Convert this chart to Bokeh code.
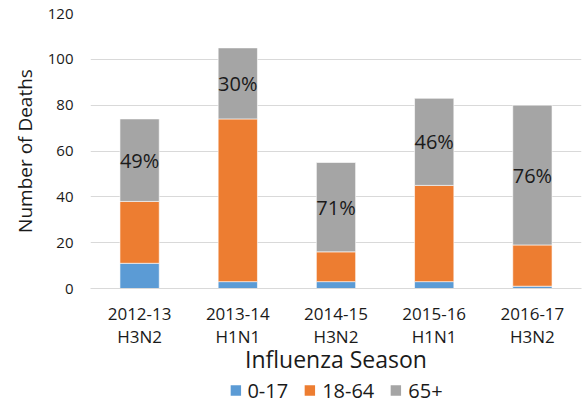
from bokeh.plotting import figure
from bokeh.layouts import column
from bokeh.models import FactorRange, Range1d, Legend, LegendItem, FixedTicker, ColumnDataSource
from bokeh.core.properties import value
from bokeh.embed import file_html
from bokeh.resources import INLINE

seasons = ["2012-13\nH3N2", "2013-14\nH1N1", "2014-15\nH3N2", "2015-16\nH1N1", "2016-17\nH3N2"]
age_groups = ["0-17", "18-64", "65+"]
deaths_0_17 = [11, 3, 3, 3, 1]
deaths_18_64 = [27, 71, 13, 42, 18]
deaths_65_plus = [36, 31, 39, 38, 61]
pct_65_plus = ["49%", "30%", "71%", "46%", "76%"]
y_ticks = [0, 20, 40, 60, 80, 100, 120]
colors = ["#5B9BD5", "#ED7D31", "#A5A5A5"]

FONT = "Open Sans"
TXT = "#1a1a1a"

label_y = [a + b + c / 2 for a, b, c in zip(deaths_0_17, deaths_18_64, deaths_65_plus)]
source = ColumnDataSource(data={
    "season": seasons,
    "0-17": deaths_0_17,
    "18-64": deaths_18_64,
    "65+": deaths_65_plus,
    "label_y": label_y,
    "pct": pct_65_plus,
})

x_range = FactorRange(factors=seasons, range_padding=0)

p = figure(x_range=x_range,
           y_range=Range1d(0, 120),
           width=586, height=378,
           min_border_left=90, min_border_top=13, min_border_right=5, min_border_bottom=85,
           output_backend="svg", toolbar_location=None)
p.outline_line_color = None

renderers = p.vbar_stack(age_groups, x="season", width=0.4, source=source,
                         fill_color=colors, line_color="white", line_width=0.6)

p.text(x="season", y="label_y", text="pct", source=source,
       text_align="center", text_baseline="middle",
       text_font=value(FONT), text_font_size="20px", text_color=TXT)

# Y axis
ya = p.yaxis[0]
ya.ticker = FixedTicker(ticks=y_ticks)
ya.axis_line_color = None
ya.major_tick_line_color = None
ya.minor_tick_line_color = None
ya.major_tick_out = 0
ya.major_tick_in = 0
ya.major_label_standoff = 17
ya.major_label_text_font = FONT
ya.major_label_text_font_size = "15px"
ya.major_label_text_color = TXT
ya.axis_label = "Number of Deaths"
ya.axis_label_text_font = FONT
ya.axis_label_text_font_size = "19px"
ya.axis_label_text_font_style = "normal"
ya.axis_label_text_color = TXT
ya.axis_label_standoff = 7

# X axis
xa = p.xaxis[0]
xa.axis_line_color = "#d9d9d9"
xa.axis_line_width = 1
xa.major_tick_line_color = None
xa.minor_tick_line_color = None
xa.major_tick_out = 0
xa.major_tick_in = 0
xa.major_label_standoff = 13
xa.major_label_text_font = FONT
xa.major_label_text_font_size = "17px"
xa.major_label_text_color = TXT
xa.major_label_text_line_height = 1.03
xa.axis_label = "Influenza Season"
xa.axis_label_text_font = FONT
xa.axis_label_text_font_size = "23px"
xa.axis_label_text_font_style = "normal"
xa.axis_label_text_color = TXT
xa.axis_label_standoff = -8

p.xgrid.grid_line_color = None
p.ygrid.grid_line_color = "#d9d9d9"
p.ygrid.grid_line_width = 1

# Legend strip below the chart (same data, bars kept out of its view)
p2 = figure(width=586, height=24, x_range=x_range, y_range=Range1d(1000, 1001),
            min_border_left=90, min_border_right=5, min_border_top=0, min_border_bottom=0,
            x_axis_location=None, y_axis_location=None,
            output_backend="svg", toolbar_location=None)
p2.outline_line_color = None
p2.grid.visible = False
legend_renderers = p2.vbar_stack(age_groups, x="season", width=0.4, source=source,
                                 fill_color=colors, line_color=None)

legend = Legend(items=[LegendItem(label=g, renderers=[r]) for g, r in zip(age_groups, legend_renderers)],
                orientation="horizontal", location="center",
                label_text_font=FONT, label_text_font_size="20px", label_text_color=TXT,
                label_height=20,
                glyph_width=13, glyph_height=13, spacing=15, label_standoff=6,
                border_line_color=None, background_fill_alpha=0,
                margin=0, padding=0)
p2.add_layout(legend, "center")

layout = column(p, p2, spacing=0)
open("out.html", "w").write(file_html(layout, INLINE))
